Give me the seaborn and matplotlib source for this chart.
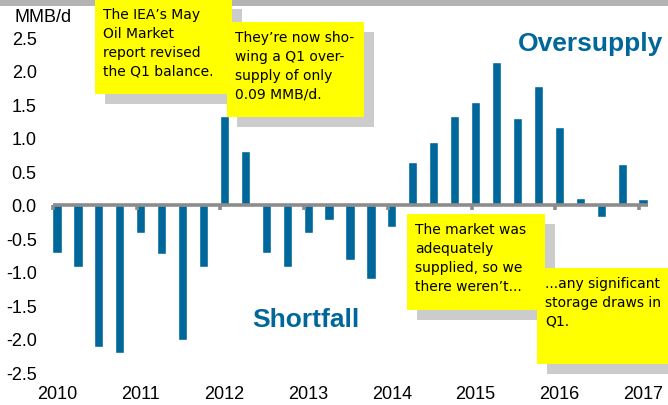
import matplotlib
import matplotlib.pyplot as plt
import seaborn as sns
from matplotlib.patches import Rectangle

matplotlib.use("Agg")

# quarterly supply/demand balance, 2010 Q1 .. 2017 Q1
quarters = [f"{y}Q{q}" for y in range(2010, 2018) for q in range(1, 5)][:29]
balance = [
    -0.72, -0.92, -2.12, -2.21,   # 2010
    -0.42, -0.73, -2.01, -0.93,   # 2011
    1.33, 0.81, -0.72, -0.93,     # 2012
    -0.42, -0.22, -0.82, -1.10,   # 2013
    -0.33, 0.64, 0.94, 1.33,      # 2014
    1.54, 2.13, 1.30, 1.77,       # 2015
    1.17, 0.10, -0.18, 0.61,      # 2016
    0.09,                         # 2017
]
year_labels = ["2010", "2011", "2012", "2013", "2014", "2015", "2016", "2017"]
y_ticks = [-2.5, -2.0, -1.5, -1.0, -0.5, 0.0, 0.5, 1.0, 1.5, 2.0, 2.5]

BLUE = "#00679b"
GREY = "#8c8c8c"

notes = [
    (95, 0, 137, 95, "The IEA\u2019s May\nOil Market\nreport revised\nthe Q1 balance."),
    (227, 23, 137, 95, "They\u2019re now sho-\nwing a Q1 over-\nsupply of only\n0.09 MMB/d."),
    (407, 215, 138, 96, "The market was\nadequately\nsupplied, so we\nthere weren\u2019t..."),
    (537, 269, 140, 96, "...any significant\nstorage draws in\nQ1."),
]

sns.set_theme(style="white")
plt.rcParams["font.family"] = ["Liberation Sans", "DejaVu Sans"]
plt.rcParams["text.color"] = "black"

W, H = 668, 406
fig = plt.figure(figsize=(W / 100, H / 100), dpi=100)
ax = fig.add_axes([45 / W, (H - 382) / H, 610 / W, 357 / H])

sns.barplot(x=list(range(len(balance))), y=balance, color=BLUE, width=0.44,
            saturation=1, ax=ax, zorder=2)

n = len(balance)
ax.hlines(0, -0.2, n - 1 + 0.24, color=GREY, lw=2.6, zorder=3)
tick_pos = [i - 0.19 for i in range(0, n, 4)]
ax.vlines(tick_pos, -0.07, 0, color=GREY, lw=2.6, zorder=3)

ax.set_xlim(-0.573, 28.57)
ax.set_ylim(-2.627, 2.70)
ax.set_xticks(range(0, n, 4))
ax.set_xticklabels(year_labels)
ax.set_yticks(y_ticks)
ax.set_yticklabels([f"{v:.1f}" for v in y_ticks])
ax.tick_params(axis="both", length=0, labelsize=13, colors="black")
ax.tick_params(axis="x", pad=3)
ax.tick_params(axis="y", pad=6)
for s in ax.spines.values():
    s.set_visible(False)
ax.set_xlabel("")
ax.set_ylabel("")

# overlay in pixel coordinates for the annotations
ov = fig.add_axes([0, 0, 1, 1], facecolor="none")
ov.set_xlim(0, W)
ov.set_ylim(H, 0)
ov.axis("off")

ov.add_patch(Rectangle((0, 0), W, 7, color="#b3b3b3", lw=0))
ov.text(14, 18, "MMB/d", fontsize=13, va="center", ha="left", color="black")
ov.text(663, 44, "Oversupply", fontsize=19, fontweight="bold", color=BLUE,
        va="center", ha="right")
ov.text(306, 320, "Shortfall", fontsize=19, fontweight="bold", color=BLUE,
        va="center", ha="center")

for x, y, w, h, txt in notes:
    ov.add_patch(Rectangle((x + 10, y + 10), w, h, color="#cccccc", lw=0))
    ov.add_patch(Rectangle((x, y), w, h, color="#ffff00", lw=0))
    ov.text(x + 8, y + 8, txt, fontsize=10, family=["DejaVu Sans"],
            color="black", va="top", ha="left", linespacing=1.45)

fig.savefig("out.png", dpi=100)
